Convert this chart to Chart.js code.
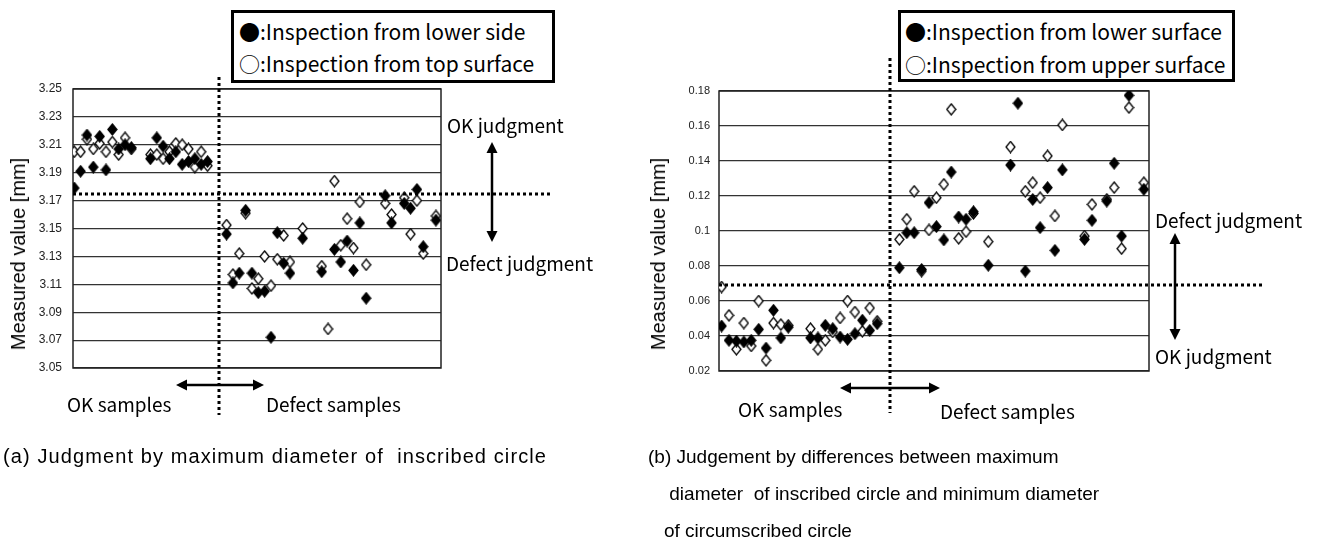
<!DOCTYPE html>
<html>
<head>
<meta charset="utf-8">
<script src="https://cdn.jsdelivr.net/npm/chart.js@4.4.1/dist/chart.umd.min.js"></script>
<style>
  html, body { margin:0; padding:0; background:#fff; }
  #wrap { position:relative; width:1326px; height:554px; overflow:hidden; }
  #wrap canvas { position:absolute; left:0; top:0; }
  .t { position:absolute; white-space:pre; color:#000; line-height:1; transform:translateY(-50%); }
  .jp { font-family:"Noto Sans CJK JP","Noto Sans",sans-serif; font-size:19px; }
  .lg { font-family:"Noto Sans CJK JP","Noto Sans",sans-serif; font-size:21px; }
  .cap { font-family:"Liberation Sans",Arial,sans-serif; font-size:19px; }
  .ytitle { position:absolute; white-space:pre; line-height:1; font-family:"Liberation Sans",Arial,sans-serif;
            font-size:20px; transform:translate(-50%,-50%) rotate(-90deg); }
  .legend { position:absolute; border:3px solid #000; box-sizing:border-box; background:#fff; }
</style>
</head>
<body>
<div id="wrap">
  <canvas id="chartA" width="1326" height="554"></canvas>
  <canvas id="chartB" width="1326" height="554"></canvas>

  <!-- (a) -->
  <div class="legend" style="left:231px;top:10px;width:324px;height:73px;"></div>
  <div class="t lg" style="left:239px;top:31px;">●:Inspection from lower side</div>
  <div class="t lg" style="left:239px;top:63px;">○:Inspection from top surface</div>
  <div class="ytitle" style="left:18px;top:254px;">Measured value [mm]</div>
  <div class="t jp" style="left:447px;top:124px;">OK judgment</div>
  <div class="t jp" style="left:446px;top:262px;">Defect judgment</div>
  <div class="t jp" style="left:67px;top:403px;">OK samples</div>
  <div class="t jp" style="left:266px;top:403px;">Defect samples</div>
  <div class="t cap" style="left:3px;top:456px;font-size:20px;letter-spacing:1.1px;">(a) Judgment by maximum diameter of  inscribed circle</div>

  <!-- (b) -->
  <div class="legend" style="left:898px;top:10px;width:337px;height:72px;"></div>
  <div class="t lg" style="left:905px;top:31px;">●:Inspection from lower surface</div>
  <div class="t lg" style="left:905px;top:64px;">○:Inspection from upper surface</div>
  <div class="ytitle" style="left:658px;top:254px;">Measured value [mm]</div>
  <div class="t jp" style="left:1155px;top:219px;">Defect judgment</div>
  <div class="t jp" style="left:1155px;top:355px;">OK judgment</div>
  <div class="t jp" style="left:738px;top:408px;">OK samples</div>
  <div class="t jp" style="left:940px;top:410px;">Defect samples</div>
  <div class="t cap" style="left:648px;top:456px;">(b) Judgement by differences between maximum</div>
  <div class="t cap" style="left:664px;top:493px;"> diameter  of inscribed circle and minimum diameter</div>
  <div class="t cap" style="left:664px;top:530px;">of circumscribed circle</div>
</div>

<script>
// ── data: sample number on x, measured value on y ─────────────
const samples = [0,1,2,3,4,5,6,7,8,9, 12,13,14,15,16,17,18,19,20,21,
                 24,25,26,27,28,29,30,31,32,33,34,36,39,40,41,42,43,44,45,46,49,50,52,53,54,55,57];

// (a) max diameter of inscribed circle
const lowerA = [3.179,3.191,3.217,3.194,3.216,3.192,3.221,3.207,3.210,3.208,
                3.200,3.215,3.209,3.200,3.205,3.196,3.198,3.200,3.196,3.198,
                3.146,3.111,3.118,3.163,3.118,3.104,3.105,3.072,3.147,3.125,3.118,3.143,3.119,null,
                3.135,3.126,3.141,3.120,3.154,3.100,3.1735,3.154,3.168,3.1645,3.178,3.137,3.156];
const topA   = [3.205,3.205,3.214,3.207,3.211,3.205,3.212,3.203,3.215,3.207,
                3.203,3.203,3.200,3.205,3.211,3.210,3.207,3.194,3.205,3.195,
                3.1525,3.117,3.132,3.161,3.107,3.114,3.130,3.109,3.128,3.145,3.126,3.150,3.123,3.078,
                3.184,3.138,3.157,3.136,3.169,3.124,3.168,3.160,3.172,3.146,3.170,3.132,3.159];

// (b) max inscribed minus min circumscribed
const lowerB = [0.0457,0.0375,0.0371,0.0366,0.0375,0.0438,0.0331,0.0547,0.0389,0.045,
                0.0389,0.0389,0.0461,0.0442,0.0394,0.0381,0.0413,0.049,0.0432,0.047,
                0.079,0.099,0.099,0.078,0.1162,0.1025,0.0949,0.1337,0.108,0.1067,0.111,0.0804,0.1377,0.173,
                0.0771,0.118,0.1019,0.1248,0.0889,0.1349,0.0952,0.1061,0.1171,0.1387,0.0971,0.1775,0.1238];
const upperB = [0.068,0.0518,0.0324,0.0474,0.0343,0.060,0.0261,0.0474,0.0465,0.0461,
                0.0442,0.0324,0.0375,0.0423,0.0503,0.060,0.0537,0.0427,0.056,0.0484,
                0.0952,0.1067,0.1227,0.0771,0.1006,0.119,0.1267,0.1695,0.0958,0.0996,0.110,0.0939,0.148,null,
                0.1227,0.1276,0.119,0.1429,0.1086,0.1606,0.0971,0.1152,0.1181,0.1248,0.0899,0.1705,0.1276];

const ticksA = [3.05,3.07,3.09,3.11,3.13,3.15,3.17,3.19,3.21,3.23,3.25];
const ticksB = [0.02,0.04,0.06,0.08,0.1,0.12,0.14,0.16,0.18];

const thresholdA = 3.175;   // dotted judgment line
const thresholdB = 0.069;
const splitA = 22.8;        // OK / defect divider, in sample units
const splitB = 22.7;

// ── markers ───────────────────────────────────────────────────
function diamond(filled) {
  const c = document.createElement('canvas');
  c.width = 11; c.height = 13;
  const g = c.getContext('2d');
  g.beginPath();
  g.moveTo(5.5, 1); g.lineTo(10, 6.5); g.lineTo(5.5, 12); g.lineTo(1, 6.5); g.closePath();
  g.fillStyle = filled ? '#000' : '#fff';
  g.fill();
  g.lineWidth = 1.3; g.strokeStyle = '#000';
  g.stroke();
  return c;
}
const dFill = diamond(true), dOpen = diamond(false);

const toPts = vals => samples.map((s, i) => ({ x: s, y: vals[i] })).filter(p => p.y !== null);

// ── frame, dotted lines and arrows ───────────────────────────
function arrowHead(ctx, x, y, dx, dy) {
  const L = 11, W = 5.5;
  ctx.beginPath();
  ctx.moveTo(x, y);
  ctx.lineTo(x - dx*L - dy*W, y - dy*L + dx*W);
  ctx.lineTo(x - dx*L + dy*W, y - dy*L - dx*W);
  ctx.closePath(); ctx.fill();
}
function arrow2(ctx, x1, y1, x2, y2) {
  const len = Math.hypot(x2-x1, y2-y1), dx = (x2-x1)/len, dy = (y2-y1)/len;
  ctx.beginPath(); ctx.moveTo(x1 + dx*6, y1 + dy*6); ctx.lineTo(x2 - dx*6, y2 - dy*6); ctx.stroke();
  arrowHead(ctx, x2, y2, dx, dy);
  arrowHead(ctx, x1, y1, -dx, -dy);
}

const decoPlugin = {
  id: 'deco',
  beforeDatasetsDraw(chart, args, o) {
    const { ctx, chartArea: a } = chart;
    ctx.save();
    ctx.strokeStyle = '#222'; ctx.lineWidth = 1.5;
    ctx.strokeRect(a.left, a.top, a.right - a.left, a.bottom - a.top);
    ctx.restore();
  },
  afterDatasetsDraw(chart, args, o) {
    const { ctx, chartArea: a, scales: { x, y } } = chart;
    ctx.save();
    ctx.strokeStyle = '#000'; ctx.fillStyle = '#000';
    ctx.lineWidth = 3; ctx.setLineDash([3, 3]); ctx.lineCap = 'butt';
    const ty = Math.round(y.getPixelForValue(o.threshold));
    ctx.beginPath(); ctx.moveTo(a.left, ty); ctx.lineTo(o.hEnd, ty); ctx.stroke();
    const sx = Math.round(x.getPixelForValue(o.split));
    ctx.beginPath(); ctx.moveTo(sx, o.vTop); ctx.lineTo(sx, o.vBottom); ctx.stroke();
    ctx.setLineDash([]); ctx.lineWidth = 2.5;
    arrow2(ctx, o.vArrow[0], o.vArrow[1], o.vArrow[0], o.vArrow[2]);
    arrow2(ctx, sx - o.hArrow[0], o.hArrow[2], sx + o.hArrow[1], o.hArrow[2]);
    ctx.restore();
  }
};

function makeChart(id, lower, upper, ticks, xr, pad, tickPad, tickFont, deco) {
  return new Chart(document.getElementById(id), {
    type: 'scatter',
    data: {
      datasets: [
        { label: 'lower', data: toPts(lower), pointStyle: dFill, order: 0 },
        { label: 'upper', data: toPts(upper), pointStyle: dOpen, order: 1 }
      ]
    },
    options: {
      responsive: false, animation: false, devicePixelRatio: 1,
      layout: { padding: pad },
      plugins: { legend: { display: false }, tooltip: { enabled: false }, deco },
      scales: {
        x: { type: 'linear', min: xr[0], max: xr[1], display: false },
        y: {
          type: 'linear', min: ticks[0], max: ticks[ticks.length - 1],
          afterFit: s => { s.width = 40; },
          afterBuildTicks: s => { s.ticks = ticks.map(v => ({ value: v })); },
          grid: { color: '#333', lineWidth: 1.2, drawTicks: false },
          border: { display: false },
          ticks: {
            padding: tickPad, color: '#222', font: tickFont,
            callback: v => String(+(+v).toFixed(3))
          }
        }
      }
    },
    plugins: [decoPlugin]
  });
}

// (a): plot area 73..441 x 89..368
makeChart('chartA', lowerA, topA, ticksA, [-0.2, 57.8],
  { left: 33, right: 1326 - 441, top: 89, bottom: 554 - 368 }, 11,
  { family: '"Liberation Sans Narrow","Liberation Sans",Arial', size: 12 },
  { threshold: thresholdA, hEnd: 553, split: splitA, vTop: 77, vBottom: 415,
    vArrow: [492, 142, 242], hArrow: [43, 45, 385] });

// (b): plot area 719..1149 x 91..371
makeChart('chartB', lowerB, upperB, ticksB, [-0.35, 57.7],
  { left: 679, right: 1326 - 1149, top: 91, bottom: 554 - 371 }, 9,
  { family: '"Liberation Sans Narrow","Liberation Sans",Arial', size: 11 },
  { threshold: thresholdB, hEnd: 1265, split: splitB, vTop: 58, vBottom: 413,
    vArrow: [1175, 233, 340], hArrow: [50, 50, 388] });
</script>
</body>
</html>
